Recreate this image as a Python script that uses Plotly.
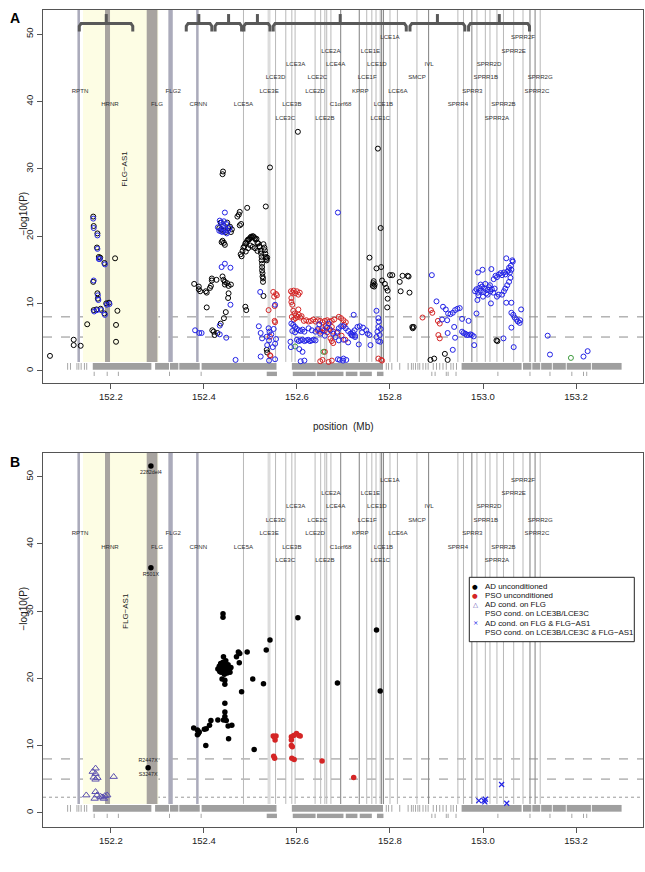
import plotly.graph_objects as go

# ------------------------------------------------------------------ data
X_TICKS = [152.2, 152.4, 152.6, 152.8, 153.0, 153.2]
Y_TICKS = [0, 10, 20, 30, 40, 50]
X_RANGE = [152.054, 153.344]
YA_RANGE = [-1.83, 53.6]
YB_RANGE = [-2.13, 53.57]
SIG_DASH = [8, 5]
SIG_DOT_B = [2.3]

GENE_NAMES = ["RPTN", "HRNR", "FLG", "FLG2", "CRNN", "LCE5A", "LCE3E", "LCE3D", "LCE3C",
              "LCE3B", "LCE3A", "LCE2D", "LCE2C", "LCE2B", "LCE2A", "LCE4A", "C1orf68",
              "KPRP", "LCE1F", "LCE1E", "LCE1D", "LCE1C", "LCE1B", "LCE1A", "LCE6A", "SMCP",
              "IVL", "SPRR4", "SPRR3", "SPRR1B", "SPRR2D", "SPRR2A", "SPRR2B", "SPRR2E",
              "SPRR2F", "SPRR2C", "SPRR2G"]
GENE_LABEL_X = [152.1336, 152.198, 152.299, 152.334, 152.388, 152.485, 152.540, 152.554, 152.575,
                152.589, 152.597, 152.639, 152.644, 152.660, 152.673, 152.683, 152.694,
                152.736, 152.751, 152.758, 152.772, 152.779, 152.786, 152.800, 152.817, 152.858,
                152.884, 152.946, 152.977, 153.006, 153.013, 153.030, 153.044, 153.066,
                153.086, 153.116, 153.123]
GENE_LABEL_Y = [41.5, 39.5, 39.5, 41.5, 39.5, 39.5, 41.5, 43.5, 37.5,
                39.5, 45.5, 41.5, 43.5, 37.5, 47.5, 45.5, 39.5,
                41.5, 43.5, 47.5, 45.5, 37.5, 39.5, 49.5, 41.5, 43.5,
                45.5, 39.5, 41.5, 43.5, 45.5, 37.5, 39.5, 47.5,
                49.5, 41.5, 43.5]

BAND_NAMES = ["RPTN", "HRNR", "FLG", "FLG2", "CRNN"]
BAND_START = [152.1280, 152.1873, 152.2770, 152.3235, 152.3832]
BAND_END = [152.1335, 152.1981, 152.3000, 152.3330, 152.3886]
BAND_TONE = ["cool", "warm", "warm", "cool", "cool"]

THIN_LINES = [152.485, 152.554, 152.576, 152.589, 152.596, 152.639, 152.651, 152.660, 152.664,
              152.673, 152.750, 152.761, 152.770, 152.779, 152.800, 152.816, 152.858, 152.946,
              152.958, 152.987, 153.005, 153.015, 153.030, 153.044, 153.066, 153.086, 153.123]
DARK_LINES = [152.694, 152.734, 152.782, 152.786, 152.883, 152.976, 153.101, 153.112]
LIGHT_WIDE_LINES = [152.540]
LINE_BOTTOM = 1.3

FLG_AS1_START, FLG_AS1_END = 152.140, 152.302
FLG_AS1_LABEL_X = 152.230

BRACKET_START = [152.132, 152.362, 152.424, 152.486, 152.549, 152.843, 152.969]
BRACKET_END = [152.247, 152.417, 152.481, 152.542, 152.835, 152.961, 153.100]
BRACKET_MID = [152.190, 152.389, 152.453, 152.515, 152.693, 152.902, 153.035]

RUG1_START = [152.106, 152.112, 152.126, 152.130, 152.135, 152.142, 152.147, 152.161, 152.295,
              152.327, 152.347, 152.395, 152.589, 152.791, 152.796, 152.803, 152.820, 152.838,
              152.845, 152.849, 152.854, 152.859, 152.863, 152.870, 152.876, 152.881, 152.892,
              152.899, 152.906, 152.913, 152.920, 152.930, 152.935, 152.942, 152.954, 153.086,
              153.106, 153.125, 153.150, 153.180, 153.234]
RUG1_END = [152.108, 152.114, 152.128, 152.132, 152.137, 152.144, 152.149, 152.287, 152.325,
            152.345, 152.391, 152.556, 152.785, 152.793, 152.798, 152.805, 152.822, 152.840,
            152.847, 152.851, 152.856, 152.861, 152.865, 152.872, 152.878, 152.883, 152.894,
            152.901, 152.908, 152.915, 152.922, 152.932, 152.937, 152.944, 153.083, 153.104,
            153.123, 153.148, 153.178, 153.232, 153.298]
RUG2_START = [152.163, 152.191, 152.215, 152.325, 152.393, 152.535, 152.591, 152.643, 152.705,
              152.735, 152.772, 152.889, 152.896, 152.920, 152.924, 152.941, 153.031, 153.100,
              153.143, 153.190, 153.215, 153.222]
RUG2_END = [152.165, 152.193, 152.217, 152.327, 152.395, 152.557, 152.640, 152.700, 152.730,
            152.761, 152.786, 152.891, 152.898, 152.922, 152.926, 152.943, 153.033, 153.102,
            153.145, 153.192, 153.217, 153.224]

# panel A : open circles
A_AD_UNCOND = [
    (152.069, 2.2), (152.120, 4.6), (152.120, 3.8), (152.135, 3.7), (152.149, 6.9),
    (152.162, 22.9), (152.163, 21.5), (152.171, 20.4), (152.170, 18.3), (152.162, 13.2),
    (152.171, 11.5), (152.172, 10.7), (152.174, 16.9), (152.177, 16.8), (152.186, 16.0),
    (152.163, 9.0), (152.169, 9.1), (152.178, 9.2), (152.186, 8.5), (152.190, 10.0),
    (152.196, 10.1), (152.209, 16.7), (152.214, 8.9), (152.211, 6.8), (152.211, 4.3),
    (152.379, 12.9), (152.389, 12.5), (152.389, 12.1), (152.392, 11.8), (152.404, 11.8),
    (152.406, 11.6), (152.413, 12.3), (152.415, 12.6), (152.417, 13.7), (152.417, 13.4),
    (152.406, 9.4), (152.418, 6.0), (152.421, 5.8), (152.423, 5.3), (152.429, 5.6),
    (152.436, 7.0), (152.443, 7.8), (152.447, 8.7), (152.427, 13.5), (152.440, 14.0),
    (152.442, 13.5), (152.445, 13.2), (152.450, 13.0), (152.453, 12.6), (152.445, 12.8),
    (152.453, 11.5), (152.452, 10.8), (152.458, 12.8),
    (152.440, 29.2), (152.441, 29.6), (152.440, 19.3), (152.443, 19.0), (152.445, 18.7),
    (152.438, 19.1), (152.433, 21.2), (152.437, 21.0), (152.442, 20.8), (152.447, 20.6),
    (152.452, 21.2), (152.456, 21.4), (152.460, 21.0), (152.458, 20.6), (152.436, 22.0),
    (152.450, 22.0), (152.472, 22.9), (152.477, 23.6), (152.475, 23.2), (152.477, 21.6),
    (152.480, 21.8), (152.493, 24.2),
    (152.479, 17.3), (152.481, 17.0), (152.483, 17.8), (152.485, 18.3), (152.487, 18.5),
    (152.489, 18.9), (152.491, 19.0), (152.493, 19.3), (152.495, 19.5), (152.497, 19.5),
    (152.499, 19.7), (152.501, 19.9), (152.503, 19.8), (152.505, 20.0), (152.507, 19.9),
    (152.509, 19.7), (152.511, 19.5), (152.513, 19.6), (152.515, 19.0), (152.517, 18.9),
    (152.519, 18.5), (152.520, 18.4), (152.522, 17.8), (152.523, 17.4), (152.524, 16.9),
    (152.524, 16.4), (152.525, 15.9), (152.525, 15.4), (152.525, 14.9), (152.526, 14.5),
    (152.526, 14.0), (152.527, 13.7), (152.527, 13.2), (152.528, 18.8), (152.530, 18.3),
    (152.531, 17.9), (152.532, 17.4), (152.533, 16.9), (152.534, 16.6), (152.535, 16.4),
    (152.536, 16.8), (152.500, 18.6), (152.505, 18.4), (152.510, 18.2), (152.515, 17.8),
    (152.495, 18.2), (152.490, 17.7),
    (152.489, 9.5), (152.491, 9.0), (152.533, 24.4), (152.542, 30.2), (152.528, 11.1),
    (152.535, 3.1), (152.536, 2.7), (152.602, 35.5),
    (152.774, 33.0), (152.756, 16.8), (152.771, 15.2), (152.780, 21.2), (152.781, 15.4),
    (152.763, 12.6), (152.764, 13.0), (152.765, 13.3), (152.767, 12.8), (152.766, 12.5),
    (152.783, 13.4), (152.789, 12.9), (152.792, 12.3), (152.795, 11.9), (152.795, 10.7),
    (152.794, 9.4), (152.800, 14.2), (152.805, 14.2), (152.821, 13.2), (152.823, 11.8),
    (152.827, 14.1), (152.838, 14.1), (152.840, 14.0), (152.842, 11.6), (152.848, 6.5),
    (152.851, 6.5), (152.849, 6.3), (152.918, 2.5), (152.924, 1.6), (152.887, 1.6),
    (152.895, 1.8), (153.029, 4.5), (153.031, 4.4),
]
A_AD_COND = [
    (152.162, 22.6), (152.163, 21.2), (152.171, 20.1), (152.171, 18.1), (152.163, 13.4),
    (152.172, 11.2), (152.173, 10.5), (152.174, 16.6), (152.176, 16.6), (152.187, 15.8),
    (152.164, 8.8), (152.170, 9.0), (152.179, 9.0), (152.187, 8.3), (152.191, 9.8),
    (152.197, 9.9),
    (152.381, 6.0), (152.390, 5.6), (152.395, 5.6), (152.434, 5.4), (152.434, 6.7),
    (152.448, 4.9), (152.438, 15.4), (152.445, 15.9), (152.457, 15.3), (152.445, 23.5),
    (152.468, 1.6), (152.457, 9.8),
    (152.430, 21.3), (152.434, 22.3), (152.438, 22.0), (152.441, 21.6), (152.444, 21.2),
    (152.446, 20.8), (152.449, 20.4), (152.452, 20.8), (152.455, 21.2), (152.440, 20.6),
    (152.437, 20.7), (152.443, 22.2), (152.448, 21.8), (152.433, 20.8),
    (152.521, 11.7), (152.522, 2.1), (152.540, 1.5), (152.553, 1.7), (152.539, 6.3),
    (152.541, 5.8), (152.535, 5.05), (152.536, 3.8), (152.540, 4.5), (152.553, 4.0),
    (152.518, 6.6), (152.522, 5.6), (152.525, 4.8), (152.545, 5.4), (152.550, 6.2),
    (152.555, 4.7), (152.548, 3.5), (152.553, 9.8),
    (152.588, 7.0), (152.592, 6.8), (152.596, 6.5), (152.600, 6.2), (152.604, 6.0),
    (152.608, 5.9), (152.612, 6.1), (152.616, 5.8), (152.590, 5.9), (152.596, 5.7),
    (152.586, 4.3), (152.587, 3.5),
    (152.600, 4.6), (152.604, 4.4), (152.608, 4.5), (152.612, 4.6), (152.616, 4.4),
    (152.620, 4.5), (152.624, 4.6), (152.628, 4.4), (152.632, 4.5), (152.636, 4.6),
    (152.640, 4.5), (152.605, 3.2), (152.612, 2.8), (152.608, 1.4), (152.616, 1.5),
    (152.625, 6.3), (152.632, 6.0), (152.640, 5.8), (152.645, 6.2), (152.650, 5.5),
    (152.655, 6.0), (152.660, 5.2), (152.665, 6.4), (152.672, 6.0), (152.678, 5.5),
    (152.648, 6.9), (152.668, 7.0),
    (152.688, 23.5),
    (152.683, 5.0), (152.687, 5.8), (152.690, 6.3), (152.695, 6.6), (152.700, 6.6),
    (152.705, 6.3), (152.710, 5.9), (152.715, 5.5), (152.720, 5.2), (152.725, 5.0),
    (152.690, 4.5), (152.700, 4.6), (152.710, 4.2), (152.722, 8.3), (152.733, 3.9),
    (152.758, 3.8),
    (152.720, 5.7), (152.724, 6.0), (152.730, 6.5), (152.735, 6.6), (152.742, 6.4),
    (152.749, 6.0), (152.752, 5.5), (152.756, 5.3), (152.718, 5.3), (152.725, 5.2),
    (152.740, 5.7),
    (152.688, 1.7), (152.692, 1.6), (152.699, 1.5), (152.706, 1.6), (152.700, 1.8),
    (152.771, 8.9), (152.775, 7.8), (152.776, 7.3), (152.775, 6.5), (152.773, 5.8),
    (152.771, 5.0), (152.775, 4.4), (152.779, 4.3), (152.778, 5.3), (152.780, 6.2),
    (152.900, 10.3), (152.890, 14.2), (152.914, 9.5), (152.920, 9.1), (152.925, 8.5),
    (152.930, 8.4), (152.935, 8.6), (152.940, 9.0), (152.945, 9.2), (152.950, 9.3),
    (152.912, 7.6), (152.923, 7.5), (152.924, 5.6), (152.935, 3.1), (152.940, 4.9),
    (152.938, 6.5), (152.955, 7.7), (152.969, 7.4), (152.986, 8.5),
    (152.955, 5.8), (152.958, 5.6), (152.962, 5.5), (152.965, 5.3), (152.969, 5.3),
    (152.973, 5.4), (152.976, 5.3), (152.980, 5.1), (152.981, 3.8),
    (152.983, 11.8), (152.986, 12.1), (152.989, 11.6), (152.992, 12.3), (152.995, 11.9),
    (152.998, 12.5), (153.001, 11.7), (153.004, 12.2), (153.007, 11.5), (153.010, 12.0),
    (153.013, 12.4), (153.016, 11.8), (153.019, 12.1), (153.022, 11.6), (153.025, 12.2),
    (152.990, 11.2), (153.000, 11.0), (153.010, 11.3), (152.995, 12.8), (153.005, 12.9),
    (153.015, 12.7), (152.988, 10.5), (153.017, 10.0),
    (152.989, 14.6), (152.999, 15.0), (153.018, 15.1), (153.023, 13.6), (153.027, 14.1),
    (153.030, 13.9), (153.034, 14.3), (153.038, 14.5), (153.041, 14.2), (153.045, 14.6),
    (153.048, 14.3), (153.052, 14.7), (153.055, 14.9), (153.058, 14.6), (153.061, 15.0),
    (153.063, 16.4), (153.064, 16.2), (153.050, 16.7), (153.060, 15.6), (153.056, 15.3),
    (153.030, 11.0), (153.034, 11.3), (153.041, 11.3), (153.045, 11.8), (153.048, 12.2),
    (153.052, 12.7), (153.056, 13.2), (153.059, 13.8), (153.050, 10.1), (153.061, 10.1),
    (153.061, 8.6), (153.065, 8.3), (153.068, 7.9), (153.072, 7.6), (153.075, 7.3),
    (153.079, 7.1), (153.080, 7.5), (153.082, 9.1), (153.061, 6.4), (153.066, 3.5),
    (153.044, 4.8),
    (153.139, 5.2), (153.144, 2.4), (153.216, 2.1), (153.225, 2.9),
]
A_PSO_UNCOND = [
    (152.539, 9.0), (152.543, 2.2), (152.552, 7.4), (152.553, 7.2), (152.551, 11.0),
    (152.555, 11.4), (152.552, 9.6), (152.549, 11.7), (152.557, 11.2), (152.542, 5.05),
    (152.542, 2.3),
    (152.587, 11.8), (152.590, 11.6), (152.593, 11.9), (152.596, 11.5), (152.600, 11.8),
    (152.603, 11.3), (152.606, 11.6), (152.588, 10.8), (152.588, 10.2), (152.590, 9.8),
    (152.592, 8.9), (152.595, 8.5), (152.598, 8.2), (152.601, 8.0), (152.604, 8.3),
    (152.607, 7.9), (152.610, 8.1), (152.589, 8.0), (152.593, 7.6), (152.597, 7.8),
    (152.603, 9.1), (152.615, 7.4), (152.620, 7.5), (152.625, 7.3), (152.630, 7.4),
    (152.635, 7.6), (152.640, 7.3), (152.645, 7.5), (152.650, 7.4), (152.655, 7.2),
    (152.660, 7.4), (152.665, 7.5), (152.670, 7.3), (152.675, 7.4), (152.680, 7.6),
    (152.645, 6.0), (152.650, 5.8), (152.655, 6.3), (152.660, 6.0), (152.665, 5.7),
    (152.670, 6.2), (152.675, 6.5), (152.678, 5.8), (152.662, 6.6), (152.672, 4.8),
    (152.675, 4.4), (152.678, 4.1), (152.660, 2.8), (152.650, 1.4), (152.655, 1.6),
    (152.668, 1.3), (152.675, 1.5), (152.690, 8.0), (152.695, 7.8), (152.700, 7.5),
    (152.702, 6.8), (152.705, 7.2), (152.686, 5.6), (152.696, 5.2), (152.704, 4.6),
    (152.775, 1.8), (152.781, 1.6), (152.783, 1.5),
    (152.870, 7.9), (152.888, 9.0), (152.891, 8.6), (152.903, 7.4), (152.907, 7.0),
    (152.904, 5.3), (152.907, 4.8),
]
A_PSO_COND = [(152.596, 3.6), (152.657, 2.8), (153.189, 1.9)]

# panel B : filled / conditioned
B_AD_UNCOND = [
    (152.286, 51.6), (152.286, 36.45), (152.280, 6.7),
    (152.441, 29.6), (152.441, 29.1), (152.602, 29.0), (152.542, 25.7), (152.534, 24.2),
    (152.493, 23.9), (152.474, 23.9), (152.477, 23.7), (152.470, 23.2), (152.476, 22.3),
    (152.442, 23.2), (152.528, 19.2), (152.505, 19.9), (152.481, 18.0), (152.687, 19.3),
    (152.771, 27.2), (152.779, 18.1),
    (152.430, 21.4), (152.433, 21.8), (152.436, 22.2), (152.439, 21.6), (152.441, 22.4),
    (152.443, 21.2), (152.446, 21.9), (152.449, 21.5), (152.452, 22.0), (152.455, 21.3),
    (152.458, 21.6), (152.437, 20.9), (152.444, 20.6), (152.450, 20.8), (152.456, 20.9),
    (152.447, 22.6), (152.434, 21.0),
    (152.439, 19.9), (152.445, 19.7), (152.445, 19.1), (152.445, 16.3), (152.445, 15.0),
    (152.445, 14.3), (152.442, 13.8), (152.448, 13.7), (152.430, 13.8), (152.415, 13.7),
    (152.412, 13.0), (152.405, 12.5), (152.401, 12.4), (152.378, 12.6), (152.386, 12.3),
    (152.388, 11.8), (152.386, 11.6), (152.390, 12.0), (152.404, 10.0), (152.452, 12.9),
    (152.460, 13.0), (152.453, 11.0), (152.508, 9.4),
]
B_PSO_UNCOND = [
    (152.551, 11.3), (152.553, 10.8), (152.549, 11.4), (152.555, 11.4), (152.550, 8.4),
    (152.552, 8.1), (152.588, 11.3), (152.593, 11.5), (152.599, 11.8), (152.604, 11.5),
    (152.607, 11.4), (152.588, 10.8), (152.588, 10.0), (152.590, 9.8), (152.589, 8.1),
    (152.594, 7.9), (152.654, 7.7), (152.722, 5.25),
]
B_AD_COND_FLG = [
    (152.147, 2.6), (152.167, 6.6), (152.161, 6.1), (152.167, 5.8), (152.171, 5.2),
    (152.163, 5.25), (152.167, 4.95), (152.206, 5.35), (152.167, 3.1), (152.170, 2.6),
    (152.165, 2.1), (152.178, 2.4), (152.187, 2.5), (152.192, 2.6), (152.185, 2.1),
    (152.181, 2.3),
]
B_AD_COND_FLG_AS1 = [(152.991, 1.8), (153.002, 1.8), (153.005, 2.0), (153.004, 1.6),
                     (153.040, 4.2), (153.051, 1.4)]

VARIANT_LABELS = ["2282del4", "R501X", "R2447X", "S3247X"]
VARIANT_LABEL_X = [152.286, 152.286, 152.280, 152.280]
VARIANT_LABEL_Y = [50.6, 35.4, 7.8, 5.65]

LEGEND_LABELS = ["AD unconditioned", "PSO unconditioned", "AD cond. on FLG",
                 "PSO cond. on LCE3B/LCE3C", "AD cond. on FLG & FLG\u2212AS1",
                 "PSO cond. on LCE3B/LCE3C & FLG\u2212AS1"]

# ------------------------------------------------------------------ style
BLACK = "#000000"
BLUE = "#2323e6"
RED = "#d42525"
GREEN = "#3c9a3c"
PURPLE = "#5b4fb0"
FONT = "Liberation Sans, Arial, sans-serif"

W, H = 645, 872
ML, MR, MT, MB = 43, 2, 10, 45
PW, PH = W - ML - MR, H - MT - MB


def py2paper(py):
    return (H - MB - py) / PH


def px2paper(px):
    return (px - ML) / PW


DOM_A = [py2paper(383), 1.0]
DOM_B = [0.0, py2paper(452.7)]

fig = go.Figure()
shapes = []
annotations = []


def unzip(pairs):
    return [p[0] for p in pairs], [p[1] for p in pairs]


for xr, yr, top in (("x", "y", YA_RANGE[1]), ("x2", "y2", YB_RANGE[1])):
    # FLG-AS1 highlighted region
    shapes.append(dict(type="rect", xref=xr, yref=yr, x0=FLG_AS1_START, x1=FLG_AS1_END,
                       y0=LINE_BOTTOM, y1=top, fillcolor="#fdfde4", line_width=0, layer="below"))
    for xv in THIN_LINES:
        shapes.append(dict(type="line", xref=xr, yref=yr, x0=xv, x1=xv, y0=LINE_BOTTOM, y1=top,
                           line=dict(color="#b9b9b9", width=1), layer="below"))
    for xv in DARK_LINES:
        shapes.append(dict(type="line", xref=xr, yref=yr, x0=xv, x1=xv, y0=LINE_BOTTOM, y1=top,
                           line=dict(color="#8c8c8c", width=1.1), layer="below"))
    for xv in LIGHT_WIDE_LINES:
        shapes.append(dict(type="line", xref=xr, yref=yr, x0=xv, x1=xv, y0=LINE_BOTTOM, y1=top,
                           line=dict(color="#dcdcdc", width=3), layer="below"))
    for s, e, tone in zip(BAND_START, BAND_END, BAND_TONE):
        col = "#a8a4a0" if tone == "warm" else "#ababbb"
        shapes.append(dict(type="rect", xref=xr, yref=yr, x0=s, x1=e, y0=LINE_BOTTOM, y1=top,
                           fillcolor=col, line_width=0, layer="below"))
    # rug of markers
    for s, e in zip(RUG1_START, RUG1_END):
        shapes.append(dict(type="rect", xref=xr, yref=yr, x0=s, x1=e, y0=0.15, y1=1.15,
                           fillcolor="#9f9f9f", line_width=0, layer="below"))
    for s, e in zip(RUG2_START, RUG2_END):
        shapes.append(dict(type="rect", xref=xr, yref=yr, x0=s, x1=e, y0=-0.8, y1=-0.15,
                           fillcolor="#9f9f9f", line_width=0, layer="below"))
    for yv in SIG_DASH:
        shapes.append(dict(type="line", xref="paper", yref=yr,
                           x0=0, x1=1, y0=yv, y1=yv,
                           line=dict(color="#707070", width=0.8, dash="dash"), layer="below"))
    # gene labels
    fig.add_trace(go.Scatter(x=GENE_LABEL_X, y=GENE_LABEL_Y, mode="text", text=GENE_NAMES,
                             textfont=dict(size=6.1, color="#333333", family=FONT),
                             xaxis=xr, yaxis=yr, showlegend=False, hoverinfo="skip"))
    annotations.append(dict(x=FLG_AS1_LABEL_X, y=30.0, xref=xr, yref=yr, text="FLG\u2212AS1",
                            textangle=-90, showarrow=False,
                            font=dict(size=8, color="#222", family=FONT)))

for yv in SIG_DOT_B:
    shapes.append(dict(type="line", xref="paper", yref="y2", x0=0, x1=1, y0=yv, y1=yv,
                       line=dict(color="#808080", width=0.8, dash="dot"), layer="below"))

# brackets (panel A)
bx, by = [], []
for s, e, m in zip(BRACKET_START, BRACKET_END, BRACKET_MID):
    bx += [s, s, s + 0.004, e - 0.004, e, e, None, m, m, None]
    by += [50.4, 51.2, 51.6, 51.6, 51.2, 50.4, None, 51.6, 53.0, None]
fig.add_trace(go.Scatter(x=bx, y=by, mode="lines", line=dict(color="#595959", width=3),
                         xaxis="x", yaxis="y", showlegend=False, hoverinfo="skip"))

# panel A points
for pts, col in ((A_AD_UNCOND, BLACK), (A_PSO_UNCOND, RED), (A_PSO_COND, GREEN), (A_AD_COND, BLUE)):
    x, y = unzip(pts)
    fig.add_trace(go.Scatter(x=x, y=y, mode="markers", xaxis="x", yaxis="y",
                             marker=dict(symbol="circle-open", size=5, color=col,
                                         line=dict(width=1, color=col)),
                             showlegend=False, hoverinfo="skip"))

# panel B points
x, y = unzip(B_AD_UNCOND)
fig.add_trace(go.Scatter(x=x, y=y, mode="markers", xaxis="x2", yaxis="y2",
                         marker=dict(symbol="circle", size=5.5, color=BLACK), showlegend=False))
x, y = unzip(B_PSO_UNCOND)
fig.add_trace(go.Scatter(x=x, y=y, mode="markers", xaxis="x2", yaxis="y2",
                         marker=dict(symbol="circle", size=5.5, color=RED), showlegend=False))
x, y = unzip(B_AD_COND_FLG)
fig.add_trace(go.Scatter(x=x, y=y, mode="markers", xaxis="x2", yaxis="y2",
                         marker=dict(symbol="triangle-up-open", size=6.5, color=PURPLE,
                                     line=dict(width=1, color=PURPLE)), showlegend=False))
x, y = unzip(B_AD_COND_FLG_AS1)
fig.add_trace(go.Scatter(x=x, y=y, mode="markers", xaxis="x2", yaxis="y2",
                         marker=dict(symbol="x-thin-open", size=5, color=BLUE,
                                     line=dict(width=1.2, color=BLUE)), showlegend=False))
fig.add_trace(go.Scatter(x=VARIANT_LABEL_X, y=VARIANT_LABEL_Y, mode="text", text=VARIANT_LABELS,
                         textfont=dict(size=5.3, color="#222", family=FONT),
                         xaxis="x2", yaxis="y2", showlegend=False, hoverinfo="skip"))

# manual legend (panel B)
shapes.append(dict(type="rect", xref="paper", yref="paper", x0=px2paper(469.3), x1=px2paper(634.3),
                   y0=py2paper(641.7), y1=py2paper(577.3), fillcolor="white",
                   line=dict(color="#222", width=1), layer="above"))
leg_y = [586.7, 595.7, 604.5, 613.3, 623.3, 632.3]
leg_sym = ["\u25cf", "\u25cf", "\u25b3", "", "\u00d7", ""]
leg_col = [BLACK, RED, PURPLE, BLACK, BLUE, BLACK]
for lab, yy, sym, col in zip(LEGEND_LABELS, leg_y, leg_sym, leg_col):
    annotations.append(dict(x=px2paper(482.5), y=py2paper(yy), xref="paper", yref="paper",
                            text=lab, showarrow=False, xanchor="left", yanchor="middle",
                            font=dict(size=7.9, color="#111", family=FONT)))
    if sym:
        annotations.append(dict(x=px2paper(475.3), y=py2paper(yy), xref="paper", yref="paper",
                                text=sym, showarrow=False, xanchor="center", yanchor="middle",
                                font=dict(size=6.5, color=col, family="DejaVu Sans")))

# panel letters and axis titles
annotations += [
    dict(x=px2paper(8), y=py2paper(18), xref="paper", yref="paper", text="<b>A</b>",
         showarrow=False, xanchor="left", yanchor="middle", font=dict(size=14, color="black", family=FONT)),
    dict(x=px2paper(8), y=py2paper(462), xref="paper", yref="paper", text="<b>B</b>",
         showarrow=False, xanchor="left", yanchor="middle", font=dict(size=14, color="black", family=FONT)),
    dict(x=0.5, y=py2paper(427), xref="paper", yref="paper", text="position  (Mb)",
         showarrow=False, font=dict(size=10, color="#222", family=FONT)),
    dict(x=px2paper(15), y=py2paper(190), xref="paper", yref="paper", text="\u2212log10(P)",
         textangle=-90, showarrow=False, font=dict(size=10, color="#222", family=FONT)),
    dict(x=px2paper(15), y=py2paper(633), xref="paper", yref="paper", text="\u2212log10(P)",
         textangle=-90, showarrow=False, font=dict(size=10, color="#222", family=FONT)),
]

axis_common = dict(showline=True, mirror=True, linecolor="#555", linewidth=1, ticks="outside",
                   ticklen=5, tickcolor="#555", showgrid=False, zeroline=False, automargin=False,
                   tickfont=dict(size=9.5, color="#222", family=FONT))

fig.update_layout(
    template="none",
    width=W, height=H, margin=dict(l=ML, r=MR, t=MT, b=MB, autoexpand=False),
    paper_bgcolor="white", plot_bgcolor="white", showlegend=False,
    xaxis=dict(range=X_RANGE, tickvals=X_TICKS, ticktext=[f"{v:.1f}" for v in X_TICKS],
               anchor="y", **axis_common),
    yaxis=dict(range=YA_RANGE, tickvals=Y_TICKS, domain=DOM_A, anchor="x", tickangle=-90,
               **axis_common),
    xaxis2=dict(range=X_RANGE, tickvals=X_TICKS, ticktext=[f"{v:.1f}" for v in X_TICKS],
                anchor="y2", **axis_common),
    yaxis2=dict(range=YB_RANGE, tickvals=Y_TICKS, domain=DOM_B, anchor="x2", tickangle=-90,
                **axis_common),
    shapes=shapes, annotations=annotations,
)

fig.write_html("out.html", config={"displayModeBar": False, "staticPlot": True},
               post_script="document.body.style.margin='0';document.body.style.padding='0';"
                           "document.body.style.overflow='hidden';")
